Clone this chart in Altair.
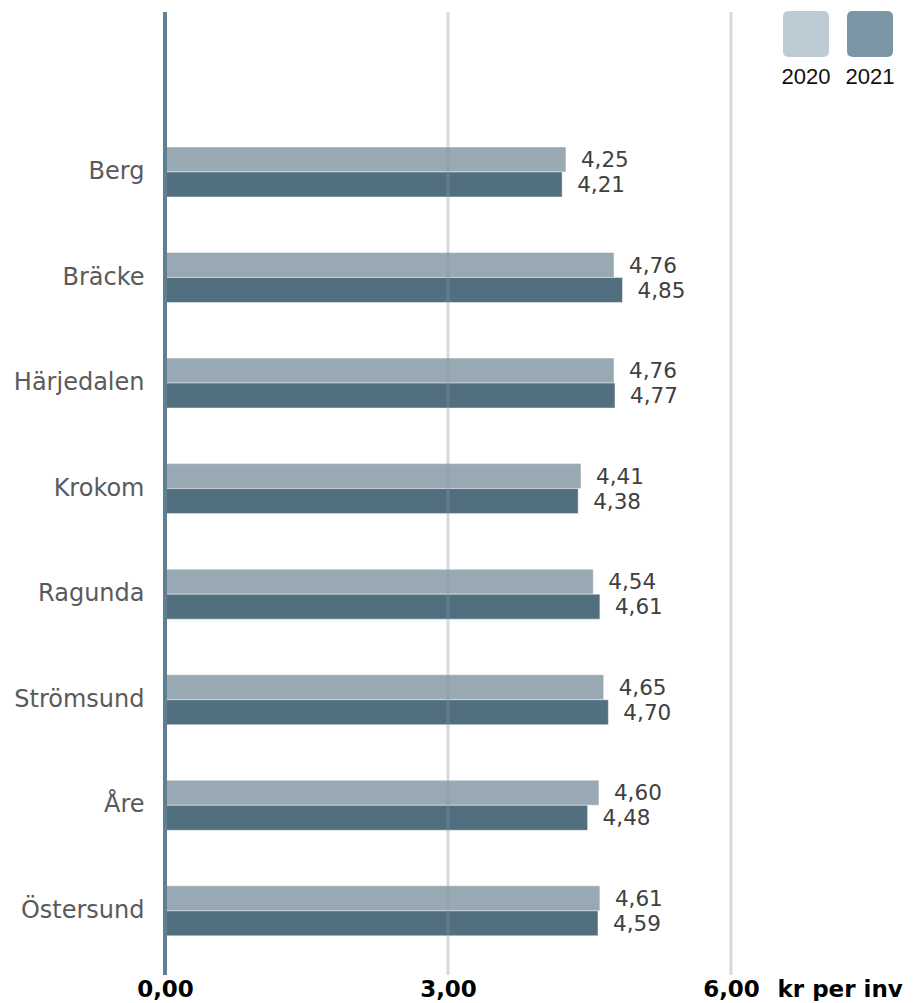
import altair as alt
import pandas as pd

kommuner = ["Berg", "Bräcke", "Härjedalen", "Krokom", "Ragunda", "Strömsund", "Åre", "Östersund"]
years = ["2020", "2021"]
v2020 = [4.25, 4.76, 4.76, 4.41, 4.54, 4.65, 4.60, 4.61]
v2021 = [4.21, 4.85, 4.77, 4.38, 4.61, 4.70, 4.48, 4.59]
grid_vals = [3, 6]
zero_vals = [0]
ticks = [0, 3, 6]

bar_colors = ["#99a9b3", "#526f7f"]
legend_colors = ["#bccbd4", "#7a95a6"]

rows = []
for k, a, b in zip(kommuner, v2020, v2021):
    rows.append({"kommun": k, "year": "2020", "value": a})
    rows.append({"kommun": k, "year": "2021", "value": b})
df = pd.DataFrame(rows)

W, H = 566, 963

x_scale = alt.Scale(domain=[0, 6], nice=False, zero=True)
y_scale = alt.Scale(domain=kommuner, paddingInner=0.5264, paddingOuter=0.825, align=0.775)
yoff_scale = alt.Scale(domain=years, paddingInner=0, paddingOuter=0)

base = alt.Chart(df)

bars = base.mark_bar(stroke="#ffffff", strokeWidth=1, strokeOpacity=0.45).encode(
    x=alt.X("value:Q", scale=x_scale,
            axis=alt.Axis(values=ticks, grid=False, ticks=False, domain=False,
                          labelExpr="replace(format(datum.value, '.2f'), '.', ',')",
                          labelFont="DejaVu Sans", labelFontWeight="bold", labelFontSize=23,
                          labelColor="#000000", labelPadding=3, labelFlush=False,
                          title="kr per inv", titleFont="DejaVu Sans", titleFontWeight="bold",
                          titleFontSize=23, titleColor="#000000", titleX=612, titleY=3,
                          titleAlign="left", titleBaseline="top")),
    y=alt.Y("kommun:N", scale=y_scale, sort=kommuner,
            axis=alt.Axis(title=None, ticks=False, domain=False, grid=False, labelPadding=21,
                          labelFont="DejaVu Sans", labelFontSize=24, labelColor="#5a5a5a")),
    yOffset=alt.YOffset("year:N", scale=yoff_scale, sort=years),
    color=alt.Color("year:N", scale=alt.Scale(domain=years, range=bar_colors), legend=None),
)

labels = base.transform_calculate(
    label="replace(format(datum.value, '.2f'), '.', ',')"
).mark_text(align="left", baseline="middle", dx=15, dy=1.5, font="DejaVu Sans",
            fontSize=21.5, color="#404040").encode(
    x=alt.X("value:Q", scale=x_scale),
    y=alt.Y("kommun:N", scale=y_scale, sort=kommuner),
    yOffset=alt.YOffset("year:N", scale=yoff_scale, sort=years),
    text="label:N",
)

grid = alt.Chart(pd.DataFrame({"v": grid_vals})).mark_rule(
    color="#7d97a8", strokeWidth=3, opacity=0.35
).encode(x=alt.X("v:Q", scale=x_scale))

zero = alt.Chart(pd.DataFrame({"v": zero_vals})).mark_rule(
    color="#5f8092", strokeWidth=4
).encode(x=alt.X("v:Q", scale=x_scale))

main = alt.layer(bars, labels, grid, zero).properties(width=W, height=H)

rounded = "M-0.74,-1L0.74,-1Q1,-1,1,-0.74L1,0.74Q1,1,0.74,1L-0.74,1Q-1,1,-1,0.74L-1,-0.74Q-1,-1,-0.74,-1Z"

legend_chart = alt.Chart(pd.DataFrame({"year": years})).mark_point(
    shape=rounded, size=2116, filled=True, opacity=1, strokeWidth=0
).encode(
    x=alt.X("year:N", sort=years,
            scale=alt.Scale(type="band", paddingInner=0, paddingOuter=0),
            axis=alt.Axis(title=None, ticks=False, domain=False, grid=False, labelAngle=0,
                          labelPadding=10, labelFont="Liberation Sans", labelFontSize=22,
                          labelColor="#111111")),
    color=alt.Color("year:N", scale=alt.Scale(domain=years, range=legend_colors), legend=None),
).properties(width=128, height=44)

chart = alt.hconcat(main, legend_chart, spacing=43).resolve_scale(
    color="independent", x="independent"
).properties(
    padding={"left": 5, "top": 2, "right": 2, "bottom": 0},
    bounds="flush",
).configure_view(stroke=None)

chart.save("out.html", embed_options={"renderer": "svg", "actions": False})
